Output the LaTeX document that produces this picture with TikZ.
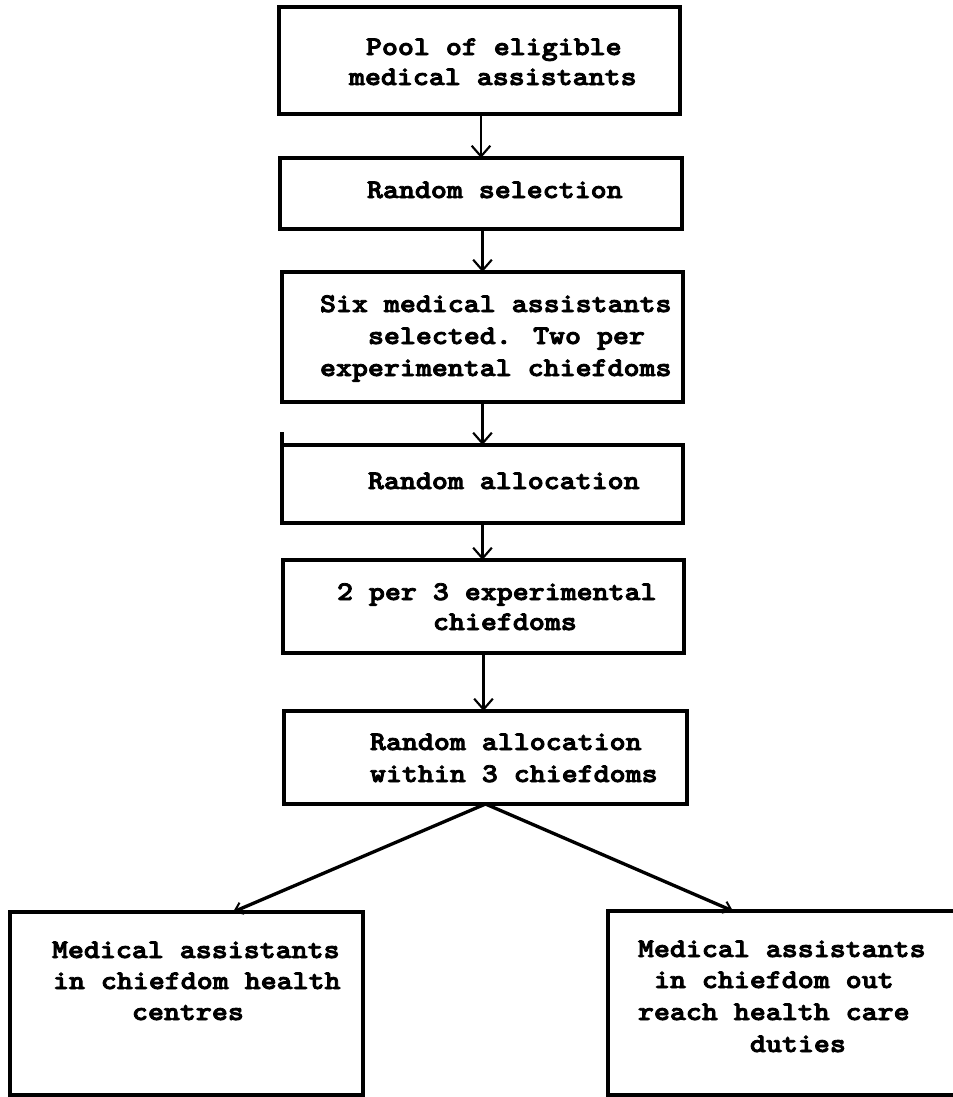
\documentclass[tikz,border=0pt]{standalone}
\usepackage{fontspec}
\usetikzlibrary{arrows.meta,calc}
\newcommand\twl[1]{\scalebox{1.13}[1]{\special{pdf:literal direct 2 Tr 0.6 w}#1\special{pdf:literal direct 0 Tr}}}
\newcommand\mkbox[5]{\node[boxst, minimum width={#4*0.75pt}, minimum height={#5*0.75pt}] (#1) at (#2,#3) {};}
\tikzset{
  boxst/.style={draw, line width=2.6pt, inner sep=0pt, outer sep=0pt},
  tl/.style={anchor=base west, inner sep=0pt, outer sep=0pt, font=\fontsize{20.2}{22}\selectfont\ttfamily\bfseries},
  vconn/.style={line width=1.6pt, -{Straight Barb[length=8pt,width=14pt,line width=1.6pt]}},
  dconn/.style={line width=2.5pt, -{Straight Barb[length=6pt,width=9pt,line width=1.5pt]}},
}
\begin{document}
\begin{tikzpicture}[x=0.75pt,y=-0.75pt]
\useasboundingbox (0,0) rectangle (953,1097);
\fill[white] (0,0) rectangle (953,1097);
% boxes
\mkbox{b1}{479.5}{60.5}{401}{107}
\mkbox{b2}{481}{193.5}{402}{71}
\mkbox{b3}{482.5}{337}{401}{130}
\mkbox{b4}{482.5}{484}{401}{78}
\mkbox{b5}{483.5}{606.5}{401}{93}
\mkbox{b6}{485.5}{757.5}{403}{93}
\mkbox{b7}{186.5}{1003.5}{353}{183}
\mkbox{b8}{783}{1003}{350}{184}
\draw[line width=2.6pt] (b4.north west) -- ++(0,-13);
% texts
\node[tl] (t11) at (366,55) {\twl{Pool of eligible}};
\node[tl] (t12) at (349,85) {\twl{medical assistants}};
\node[tl] (t21) at (367,198) {\twl{Random selection}};
\node[tl] (t31) at (320,312) {\twl{Six medical assistants}};
\node[tl] (t32) at (368,344) {\twl{selected. Two per}};
\node[tl] (t33) at (320,376) {\twl{experimental chiefdoms}};
\node[tl] (t41) at (368,489) {\twl{Random allocation}};
\node[tl] (t51) at (337,600) {\twl{2 per 3 experimental}};
\node[tl] (t52) at (433,630) {\twl{chiefdoms}};
\node[tl] (t61) at (370,750) {\twl{Random allocation}};
\node[tl] (t62) at (370,782) {\twl{within 3 chiefdoms}};
\node[tl] (t71) at (52,958) {\twl{Medical assistants}};
\node[tl] (t72) at (53,989) {\twl{in chiefdom health}};
\node[tl] (t73) at (132,1020) {\twl{centres}};
\node[tl] (t81) at (638,957) {\twl{Medical assistants}};
\node[tl] (t82) at (654,988) {\twl{in chiefdom out}};
\node[tl] (t83) at (638,1020) {\twl{reach health care}};
\node[tl] (t84) at (750,1052) {\twl{duties}};
% connectors
\draw[vconn] (b1.south -| b2.north) -- (b2.north);
\draw[vconn] (b2.south -| b3.north) -- (b3.north);
\draw[vconn] (b3.south) -- (b3.south |- b4.north);
\draw[vconn] (b4.south) -- (b4.south |- b5.north);
\draw[vconn] (b5.south) -- (b5.south |- b6.north);
\draw[dconn] (b6.south) -- ($(b7.north west)+(223,0)$);
\draw[dconn] (b6.south) -- ($(b8.north west)+(125,0)$);
\end{tikzpicture}
\end{document}
